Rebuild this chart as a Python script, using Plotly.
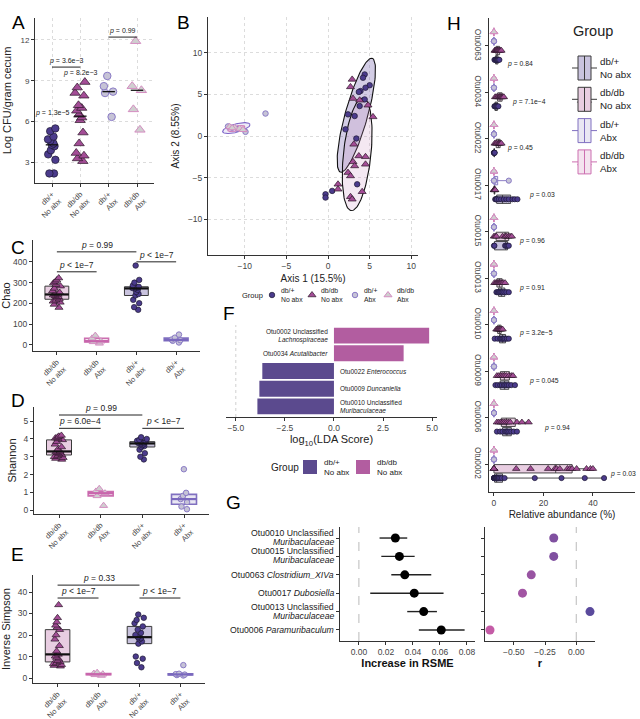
import numpy as np
import plotly.graph_objects as go

W, H = 640, 719
FONT = "Liberation Sans"

# ---------------- Panel A : culture counts ----------------
a_groups = ["db/+<br>No abx", "db/db<br>No abx", "db/+<br>Abx", "db/db<br>Abx"]
a_dbp_noabx = [5.5, 5.3, 4.9, 4.7, 4.6, 4.4, 4.3, 4.2, 3.9, 3.6, 3.2, 2.2, 2.2]
a_dbdb_noabx = [8.9, 8.5, 8.1, 7.9, 7.2, 7.0, 6.8, 6.5, 6.3, 6.1, 5.2, 4.4, 3.7, 3.5, 3.3, 3.1]
a_dbp_abx = [9.35, 8.6, 8.2, 8.1, 6.35]
a_dbdb_abx = [11.9, 8.6, 8.3, 6.9, 5.4]
a_yticks = [3, 6, 9, 12]
a_brackets = [(0, 1, 10.0, "<i>p</i> = 3.6e−3"), (2, 3, 12.2, "<i>p</i> = 0.99")]
a_free_p = [(0, 6.6, "<i>p</i> = 1.3e−5"), (1, 9.6, "<i>p</i> = 8.2e−3")]

# ---------------- Panel B : PCoA ----------------
b_dbp_noabx_x = [4.4, 4.2, 5.0, 4.5, 3.9, 3.7, 4.4, 3.8, 2.4, 3.2, 2.1, 3.4, 3.5, 0.5, -0.3, -0.3]
b_dbp_noabx_y = [7.4, 7.0, 6.1, 5.8, 5.4, 5.3, 4.4, 3.6, 2.6, 2.4, 0.8, -0.3, -5.8, -6.6, -7.0, -7.4]
b_dbdb_noabx_x = [2.9, 2.7, 3.0, 3.8, 4.8, 5.4, 3.1, 3.7, 4.5, 3.0, 3.2, 4.5, 2.4, 2.7, 1.2, 1.2, 4.1, 2.7, 2.9]
b_dbdb_noabx_y = [6.8, 5.9, 4.5, 4.3, 3.7, 2.3, -1.0, -2.4, -2.5, -3.1, -3.6, -3.4, -4.4, -4.8, -5.8, -6.4, -6.7, -7.3, -7.6]
b_dbp_abx_x = [-7.5, -9.9, -11.5, -10.8, -12.0]
b_dbp_abx_y = [2.7, 0.5, 1.0, 0.85, 1.15]
b_dbdb_abx_x = [-11.8, -11.2, -10.6, -10.2, -11.5]
b_dbdb_abx_y = [1.1, 1.0, 0.9, 0.75, 0.95]
# ellipses: centre, semi-axes, angle (deg)
b_ell_cx = [3.4, 3.5, -11.0, -11.0]
b_ell_cy = [2.5, -2.2, 0.95, 0.9]
b_ell_a = [7.1, 6.8, 1.7, 1.05]
b_ell_b = [1.35, 1.65, 0.5, 0.3]
b_ell_ang = [74.5, 84.0, 15.0, 12.0]
b_ticks = [-10, -5, 0, 5, 10]

# ---------------- Panels C, D, E : alpha diversity ----------------
cde_groups = ["db/db<br>No abx", "db/db<br>Abx", "db/+<br>No abx", "db/+<br>Abx"]
c_dbdb_noabx = [180, 195, 205, 210, 215, 220, 226, 232, 236, 240, 243, 247, 252, 260, 272, 283, 290, 298, 305, 312, 322]
c_dbdb_abx = [45, 32, 18, 15, 8]
c_dbp_noabx = [169, 182, 201, 217, 238, 245, 255, 265, 272, 274, 276, 278, 280, 286, 300, 313, 382]
c_dbp_abx = [50, 35, 26, 23, 20, 12]
c_yticks = [0, 100, 200, 300, 400]
c_brackets = [(0, 2, 448, "<i>p</i> = 0.99"), (0, 1, 352, "<i>p</i> < 1e−7"), (2, 3, 400, "<i>p</i> < 1e−7")]

d_dbdb_noabx = [2.85, 2.9, 2.95, 3.0, 3.05, 3.1, 3.15, 3.2, 3.22, 3.27, 3.3, 3.4, 3.55, 3.7, 3.85, 3.95, 4.0, 4.05, 4.1, 4.15, 4.2]
d_dbdb_abx = [1.2, 1.05, 0.95, 0.8, 0.25]
d_dbp_noabx = [2.85, 3.0, 3.2, 3.4, 3.55, 3.6, 3.65, 3.7, 3.75, 3.78, 3.8, 3.83, 3.85, 3.9, 3.95, 4.0, 4.1]
d_dbp_abx = [2.3, 0.97, 0.8, 0.62, 0.45, 0.2, 0.05]
d_yticks = [0, 1, 2, 3, 4, 5]
d_brackets = [(0, 2, 5.35, "<i>p</i> = 0.99"), (0, 1, 4.6, "<i>p</i> = 6.0e−4"), (2, 3, 4.6, "<i>p</i> < 1e−7")]

e_dbdb_noabx = [5.5, 5.8, 6.2, 6.6, 7.0, 7.5, 8.0, 8.8, 9.5, 10.2, 11.0, 12.5, 15.0, 18.0, 20.0, 22.5, 23.5, 24.5, 26.0, 28.0, 34.0]
e_dbdb_abx = [2.5, 2.1, 1.8, 1.5, 1.2]
e_dbp_noabx = [5.0, 7.0, 9.0, 10.0, 16.0, 17.0, 18.0, 18.5, 19.0, 20.0, 21.0, 22.5, 24.0, 25.5, 27.0, 28.0, 29.5]
e_dbp_abx = [6.0, 2.0, 1.8, 1.6, 1.4, 1.2]
e_yticks = [0, 10, 20, 30, 40]
e_brackets = [(0, 2, 43.2, "<i>p</i> = 0.33"), (0, 1, 37.2, "<i>p</i> < 1e−7"), (2, 3, 37.2, "<i>p</i> < 1e−7")]

# ---------------- Panel F : LEfSe ----------------
f_taxa = ["Otu0002 Unclassified<br><i>Lachnospiraceae</i>", "Otu0034 <i>Acutalibacter</i>",
          "Otu0022 <i>Enterococcus</i>", "Otu0009 <i>Duncaniella</i>",
          "Otu0010 Unclassified<br><i>Muribaculaceae</i>"]
f_lda = [4.85, 3.55, -3.65, -3.8, -3.9]
f_ticks = [-5.0, -2.5, 0.0, 2.5, 5.0]

# ---------------- Panel G : random forest ----------------
g_taxa = ["Otu0010 Unclassified<br><i>Muribaculaceae</i>", "Otu0015 Unclassified<br><i>Muribaculaceae</i>",
          "Otu0063 <i>Clostridium_XIVa</i>", "Otu0017 <i>Dubosiella</i>",
          "Otu0013 Unclassified<br><i>Muribaculaceae</i>", "Otu0006 <i>Paramuribaculum</i>"]
g_rsme = [0.027, 0.030, 0.034, 0.041, 0.048, 0.061]
g_lo = [0.0153, 0.0166, 0.024, 0.0084, 0.0358, 0.0444]
g_hi = [0.0358, 0.0413, 0.0536, 0.0627, 0.0578, 0.0783]
g_r = [-0.18, -0.18, -0.36, -0.43, 0.11, -0.69]
g_xticks = [0.00, 0.02, 0.04, 0.06, 0.08]
g_rticks = [-0.50, -0.25, 0.00]

# ---------------- Panel H : relative abundance ----------------
h_otus = ["Otu0063", "Otu0034", "Otu0022", "Otu0017", "Otu0015", "Otu0013", "Otu0010", "Otu0009", "Otu0006", "Otu0002"]
h_dbp_noabx = [
    [0.2, 0.5, 0.8, 1.0, 1.2, 1.5, 1.8, 2.2],
    [0.2, 0.4, 0.6, 1.0, 1.4, 1.8],
    [0.0, 0.05, 0.1, 0.1, 0.2, 0.3],
    [0.5, 0.8, 1.0, 1.2, 2.0, 2.9, 4.0, 5.0, 6.0, 7.5, 8.4, 9.5],
    [0.0, 0.2, 4.5, 5.0, 5.5, 6.0],
    [1.0, 1.5, 2.0, 2.5, 3.0, 3.5, 4.2, 5.0, 6.0],
    [0.3, 1.5, 2.5, 3.0, 3.5, 4.0, 4.5, 5.2, 6.0],
    [0.6, 1.5, 2.5, 3.2, 4.0, 4.6, 5.3, 6.0, 7.0, 8.5],
    [1.2, 2.5, 3.5, 4.5, 5.0, 5.5, 6.2, 7.0, 8.0, 9.3],
    [0.0, 0.0, 0.1, 0.1, 0.2, 0.3, 0.4, 0.5, 0.7, 0.9, 1.1, 1.4, 1.7, 2.0, 2.6, 3.2, 4.3, 16.5, 27.3, 36.7, 44.5],
]
h_dbdb_noabx = [
    [0.3, 0.6, 0.9, 1.2, 1.5, 1.8, 2.2, 2.6, 3.0],
    [0.5, 1.0, 1.5, 2.0, 2.3, 2.6, 3.0, 3.3, 3.6, 4.0],
    [0.3, 0.8, 1.2, 1.8, 2.2, 2.6, 3.0],
    [0.0, 0.1, 0.2, 0.3, 0.5],
    [0.0, 0.5, 1.0, 3.5, 4.5, 5.0, 5.8, 6.5, 7.2],
    [0.2, 0.8, 1.2, 1.6, 2.0, 2.4, 2.8, 3.3, 3.8, 4.5],
    [1.0, 1.4, 1.8, 2.2, 2.6, 3.0, 3.5],
    [1.2, 2.0, 2.8, 3.5, 4.2, 5.0, 6.0, 7.0, 7.7],
    [1.2, 2.0, 2.8, 3.5, 4.2, 5.0, 5.8, 6.6, 9.3, 11.3, 14.0],
    [0.0, 0.0, 0.0, 0.0, 0.0, 9.0, 14.8, 21.9, 24.6, 25.3, 26.6, 29.7, 30.7, 31.6, 33.4, 37.4, 39.0, 40.0],
]
h_dbp_abx = [
    [0.0, 0.0, 0.0, 0.0, 0.0], [0.0, 0.0, 0.0, 0.0, 0.0], [0.0, 0.0, 0.0, 0.0, 0.0],
    [0.0, 0.0, 0.0, 0.0, 6.0], [0.0, 0.0, 0.0, 0.0, 0.0], [0.0, 0.0, 0.0, 0.0, 0.0],
    [0.0, 0.0, 0.0, 0.0, 0.0], [0.0, 0.0, 0.0, 0.0, 0.0], [0.0, 0.0, 0.0, 0.0, 0.0],
    [0.0, 0.0, 0.0, 0.0, 0.0],
]
h_dbdb_abx = [
    [0.0, 0.0, 0.0, 0.0, 0.0], [0.0, 0.0, 0.0, 0.0, 0.0], [0.0, 0.0, 0.0, 0.0, 0.0],
    [0.0, 0.0, 0.0, 0.0, 0.0], [0.0, 0.0, 0.0, 0.0, 0.0], [0.0, 0.0, 0.0, 0.0, 0.0],
    [0.0, 0.0, 0.0, 0.0, 0.0], [0.0, 0.0, 0.0, 0.0, 0.0], [0.0, 0.0, 0.0, 0.0, 0.0],
    [0.0, 0.0, 0.0, 0.0, 0.0],
]
h_pvals = ["0.84", "7.1e−4", "0.45", "0.03", "0.96", "0.91", "3.2e−5", "0.045", "0.94", "0.03"]
h_p_x = [4.5, 6.5, 4.5, 13.4, 9.3, 9.3, 9.3, 13.4, 19.4, 46.0]
h_p_dy = [0.39, 0.2, 0.2, 0.2, 0.2, 0.2, 0.18, 0.22, 0.22, 0.22]
h_xticks = [0, 20, 40]

# ---------------- styles ----------------
DP = "#4B3B8C"
MG = "#A34D96"
STY = {
    "dbp_noabx": dict(symbol="circle", fill=DP, mline="#1d1830", mlw=0.7, box="#C9C3DE", bline="#3a3a3a", med="#111111"),
    "dbdb_noabx": dict(symbol="triangle-up", fill=MG, mline="#2a1626", mlw=0.7, box="#E8CDE1", bline="#3a3a3a", med="#111111"),
    "dbp_abx": dict(symbol="circle", fill="#C6C3D6", mline="#8A7BC6", mlw=1.0, box="#E9E7F3", bline="#8070C0", med="#7A68BE"),
    "dbdb_abx": dict(symbol="triangle-up", fill="#CFCFCF", mline="#D48DC1", mlw=1.0, box="#F4E4EF", bline="#CC6FB0", med="#C865AC"),
}
LABEL = {"dbp_noabx": "db/+<br>No abx", "dbdb_noabx": "db/db<br>No abx", "dbp_abx": "db/+<br>Abx", "dbdb_abx": "db/db<br>Abx"}


def px(x):
    return x / W


def py(y):
    return 1 - y / H


fig = go.Figure()
shapes = []
annots = []
lay = {}


def refs(n):
    return ("x" if n == 1 else f"x{n}"), ("y" if n == 1 else f"y{n}")


def set_axes(n, xdom, ydom, xkw, ykw):
    xa = "xaxis" if n == 1 else f"xaxis{n}"
    ya = "yaxis" if n == 1 else f"yaxis{n}"
    xr, yr = refs(n)
    base = dict(showline=True, linecolor="#333333", linewidth=1, ticks="outside", ticklen=3, tickwidth=1,
                tickcolor="#333333", zeroline=False, showgrid=False, automargin=False, fixedrange=True,
                tickfont=dict(size=8, color="#444444", family=FONT), title=dict(font=dict(size=10, family=FONT, color="#222222")))
    xd = dict(base)
    xd.update(domain=[px(xdom[0]), px(xdom[1])], anchor=yr)
    xd.update(xkw)
    yd = dict(base)
    yd.update(domain=[py(ydom[1]), py(ydom[0])], anchor=xr)
    yd.update(ykw)
    lay[xa] = xd
    lay[ya] = yd


def bracket(n, x0, x1, y, text, size):
    xr, yr = refs(n)
    shapes.append(dict(type="line", xref=xr, yref=yr, x0=x0, x1=x1, y0=y, y1=y, line=dict(color="#222222", width=1)))
    annots.append(dict(xref=xr, yref=yr, x=(x0 + x1) / 2, y=y, text=text, showarrow=False, yanchor="bottom",
                       yshift=0, font=dict(size=size, family=FONT, color="#222222")))


def box_stats(n, vals, pos, width, st, lw=1.0, medw=2.0):
    xr, yr = refs(n)
    q1, med, q3 = np.percentile(vals, [25, 50, 75])
    fig.add_trace(go.Box(x=[pos], q1=[q1], median=[med], q3=[q3], lowerfence=[q1], upperfence=[q3],
                         orientation="v", width=width, fillcolor=st["box"], line=dict(color=st["bline"], width=lw),
                         whiskerwidth=0, xaxis=xr, yaxis=yr, showlegend=False, hoverinfo="skip"))
    fig.add_trace(go.Scatter(x=[pos - width / 2, pos + width / 2], y=[med, med], mode="lines",
                             line=dict(color=st["med"], width=medw), xaxis=xr, yaxis=yr, showlegend=False, hoverinfo="skip"))


def jitter_points(n, vals, pos, width, jitter, st, size):
    xr, yr = refs(n)
    sz = size + 1.5 if st["symbol"].startswith("triangle") else size
    fig.add_trace(go.Box(y=vals, x0=pos, width=width, boxpoints="all", jitter=jitter, pointpos=0,
                         line=dict(width=0, color="rgba(0,0,0,0)"), fillcolor="rgba(0,0,0,0)",
                         marker=dict(symbol=st["symbol"], size=sz, color=st["fill"], opacity=1,
                                     line=dict(color=st["mline"], width=st["mlw"])),
                         xaxis=xr, yaxis=yr, showlegend=False, hoverinfo="skip"))


# ================= Panel A =================
set_axes(1, (35, 154), (18, 183),
         dict(range=[-0.6, 3.6], tickvals=[0, 1, 2, 3], ticktext=a_groups, tickangle=-45,
              tickfont=dict(size=7.5, color="#444444", family=FONT),
              showgrid=True, gridcolor="#DCDCDC", griddash="dot", gridwidth=1),
         dict(range=[1.5, 13.6], tickvals=a_yticks, showgrid=True, gridcolor="#DCDCDC", griddash="dot", gridwidth=1,
              title=dict(text="Log CFU/gram cecum", font=dict(size=11, family=FONT, color="#222222"), standoff=6)))
for i, (key, vals) in enumerate([("dbp_noabx", a_dbp_noabx), ("dbdb_noabx", a_dbdb_noabx),
                                 ("dbp_abx", a_dbp_abx), ("dbdb_abx", a_dbdb_abx)]):
    jitter_points(1, vals, i, 0.5, 0.8, STY[key], 7.5)
    med = float(np.median(vals))
    fig.add_trace(go.Scatter(x=[i - 0.22, i + 0.22], y=[med, med], mode="lines", line=dict(color="#111111", width=1.3),
                             xaxis="x", yaxis="y", showlegend=False, hoverinfo="skip"))
for x0, x1, y, t in a_brackets:
    bracket(1, x0, x1, y, t, 7)
for x, y, t in a_free_p:
    annots.append(dict(xref="x", yref="y", x=x, y=y, text=t, showarrow=False, font=dict(size=7, family=FONT, color="#222222")))

# ================= Panel B =================
set_axes(2, (208, 418), (17, 255),
         dict(range=[-14.4, 10.8], tickvals=b_ticks, ticktext=[str(v).replace("-", "−") for v in b_ticks],
              showgrid=True, gridcolor="#DCDCDC", griddash="dot", tickfont=dict(size=8.5, color="#444444", family=FONT),
              title=dict(text="Axis 1 (15.5%)", font=dict(size=10, family=FONT, color="#222222"), standoff=4)),
         dict(range=[-14.3, 14.3], tickvals=b_ticks, ticktext=[str(v).replace("-", "−") for v in b_ticks],
              showgrid=True, gridcolor="#DCDCDC", griddash="dot", tickfont=dict(size=8.5, color="#444444", family=FONT),
              title=dict(text="Axis 2 (8.55%)", font=dict(size=10, family=FONT, color="#222222"), standoff=6)))
ell_fill = ["rgba(110,90,170,0.30)", "rgba(200,140,190,0.20)", "rgba(170,160,220,0.20)", "rgba(230,170,210,0.20)"]
ell_line = ["#111111", "#111111", "#7F65C9", "#D07CB8"]
t = np.linspace(0, 2 * np.pi, 120)
for k in range(4):
    th = np.deg2rad(b_ell_ang[k])
    ex = b_ell_cx[k] + b_ell_a[k] * np.cos(t) * np.cos(th) - b_ell_b[k] * np.sin(t) * np.sin(th)
    ey = b_ell_cy[k] + b_ell_a[k] * np.cos(t) * np.sin(th) + b_ell_b[k] * np.sin(t) * np.cos(th)
    fig.add_trace(go.Scatter(x=ex, y=ey, mode="lines", fill="toself", fillcolor=ell_fill[k],
                             line=dict(color=ell_line[k], width=1.1), xaxis="x2", yaxis="y2", showlegend=False, hoverinfo="skip"))
for key, xs, ys in [("dbp_noabx", b_dbp_noabx_x, b_dbp_noabx_y), ("dbdb_noabx", b_dbdb_noabx_x, b_dbdb_noabx_y),
                    ("dbp_abx", b_dbp_abx_x, b_dbp_abx_y), ("dbdb_abx", b_dbdb_abx_x, b_dbdb_abx_y)]:
    st = STY[key]
    sz = 7 if st["symbol"].startswith("triangle") else 5.5
    fig.add_trace(go.Scatter(x=xs, y=ys, mode="markers",
                             marker=dict(symbol=st["symbol"], size=sz, color=st["fill"], line=dict(color=st["mline"], width=st["mlw"])),
                             xaxis="x2", yaxis="y2", showlegend=False, hoverinfo="skip"))

# ================= Panels C, D, E =================
cde = [
    (3, (33, 200), (240, 351), [c_dbdb_noabx, c_dbdb_abx, c_dbp_noabx, c_dbp_abx], [-29, 505], c_yticks, "Chao", c_brackets),
    (4, (34, 209), (407, 514), [d_dbdb_noabx, d_dbdb_abx, d_dbp_noabx, d_dbp_abx], [-0.22, 5.8], d_yticks, "Shannon", d_brackets),
    (5, (33, 205), (575, 683), [e_dbdb_noabx, e_dbdb_abx, e_dbp_noabx, e_dbp_abx], [-2.3, 47.9], e_yticks, "Inverse Simpson", e_brackets),
]
cde_keys = ["dbdb_noabx", "dbdb_abx", "dbp_noabx", "dbp_abx"]
for n, xd, yd, datasets, yr_, yt, ttl, brs in cde:
    set_axes(n, xd, yd,
             dict(range=[-0.6, 3.6], tickvals=[0, 1, 2, 3], ticktext=cde_groups, tickangle=-45,
                  tickfont=dict(size=7.5, color="#444444", family=FONT)),
             dict(range=yr_, tickvals=yt, tickfont=dict(size=8.5, color="#444444", family=FONT),
                  title=dict(text=ttl, font=dict(size=11, family=FONT, color="#222222"), standoff=4)))
    for i, (key, vals) in enumerate(zip(cde_keys, datasets)):
        st = STY[key]
        abx = not key.endswith("noabx")
        box_stats(n, vals, i, 0.6, st, lw=1.6 if abx else 1.0, medw=2.2)
        jitter_points(n, vals, i, 0.6, 0.45, st, 5.5)
    for x0, x1, y, tx in brs:
        bracket(n, x0, x1, y, tx, 8.5)

# ================= Panel F =================
set_axes(6, (226, 437), (325, 417),
         dict(range=[-5.5, 5.25], tickvals=f_ticks, ticktext=["−5.0", "−2.5", "0.0", "2.5", "5.0"],
              tickfont=dict(size=8.5, color="#444444", family=FONT),
              title=dict(text="log<sub>10</sub>(LDA Score)", font=dict(size=11, family=FONT, color="#222222"), standoff=3)),
         dict(range=[4.6, -0.6], visible=False))
shapes.append(dict(type="line", xref="x6", yref="y6 domain", x0=-5, x1=-5, y0=0, y1=1,
                   line=dict(color="#D0D0D0", width=1, dash="dot"), layer="below"))
f_idx = list(range(len(f_lda)))
neg_i = [i for i in f_idx if f_lda[i] < 0]
pos_i = [i for i in f_idx if f_lda[i] >= 0]
fig.add_trace(go.Bar(x=[f_lda[i] for i in neg_i], y=neg_i, orientation="h", marker=dict(color="#5B4A8E", line=dict(width=0)),
                     width=0.9, xaxis="x6", yaxis="y6", showlegend=False, hoverinfo="skip"))
fig.add_trace(go.Bar(x=[f_lda[i] for i in pos_i], y=pos_i, orientation="h", marker=dict(color="#B25DA0", line=dict(width=0)),
                     width=0.9, xaxis="x6", yaxis="y6", showlegend=False, hoverinfo="skip"))
for i in f_idx:
    right = f_lda[i] >= 0
    annots.append(dict(xref="x6", yref="y6", x=-0.2 if right else 0.2, y=i, text=f_taxa[i], showarrow=False,
                       xanchor="right" if right else "left", align="right" if right else "left",
                       font=dict(size=6.5, family=FONT, color="#222222")))

# ================= Panel G =================
g_idx = list(range(len(g_taxa)))
set_axes(7, (340, 475), (527, 641),
         dict(range=[-0.014, 0.086], tickvals=g_xticks, ticktext=[f"{v:.2f}" for v in g_xticks],
              tickfont=dict(size=8.5, color="#444444", family=FONT),
              title=dict(text="<b>Increase in RSME</b>", font=dict(size=11, family=FONT, color="#111111"), standoff=3)),
         dict(range=[5.6, -0.6], tickvals=g_idx, showticklabels=False))
# taxon labels (tight two-line spacing)
for i, lab in enumerate(g_taxa):
    parts = lab.split("<br>")
    offs = [0.0] if len(parts) == 1 else [-0.27, 0.22]
    for part, o in zip(parts, offs):
        annots.append(dict(xref="paper", yref="y7", x=px(336), y=i + o, text=part, showarrow=False,
                           xanchor="right", font=dict(size=8.7, family=FONT, color="#222222")))
shapes.append(dict(type="line", xref="x7", yref="y7 domain", x0=0, x1=0, y0=0, y1=1,
                   line=dict(color="#BBBBBB", width=1, dash="dash"), layer="below"))
fig.add_trace(go.Scatter(x=g_rsme, y=g_idx, mode="markers",
                         marker=dict(color="#000000", size=9),
                         error_x=dict(type="data", symmetric=False,
                                      array=[h - v for h, v in zip(g_hi, g_rsme)],
                                      arrayminus=[v - l for v, l in zip(g_rsme, g_lo)],
                                      color="#222222", thickness=1.4, width=0),
                         xaxis="x7", yaxis="y7", showlegend=False, hoverinfo="skip"))

set_axes(8, (485, 595), (527, 641),
         dict(range=[-0.73, 0.15], tickvals=g_rticks, ticktext=["−0.50", "−0.25", "0.00"],
              tickfont=dict(size=8.5, color="#444444", family=FONT),
              title=dict(text="<b>r</b>", font=dict(size=11, family=FONT, color="#111111"), standoff=3)),
         dict(range=[5.6, -0.6], tickvals=g_idx, showticklabels=False))
shapes.append(dict(type="line", xref="x8", yref="y8 domain", x0=0, x1=0, y0=0, y1=1,
                   line=dict(color="#BBBBBB", width=1, dash="dash"), layer="below"))
fig.add_trace(go.Scatter(x=g_r, y=g_idx, mode="markers",
                         marker=dict(color=g_r, colorscale=[[0, "#C45BA6"], [1, "#5A4A9C"]], cmin=min(g_r), cmax=max(g_r),
                                     size=9, showscale=False),
                         xaxis="x8", yaxis="y8", showlegend=False, hoverinfo="skip"))

# ================= Panel H =================
set_axes(9, (489, 635), (18, 492),
         dict(range=[-2, 57], tickvals=h_xticks, tickfont=dict(size=8.5, color="#444444", family=FONT),
              title=dict(text="Relative abundance (%)", font=dict(size=10, family=FONT, color="#222222"), standoff=3)),
         dict(range=[9.6, -0.6], tickvals=list(range(len(h_otus))), ticktext=h_otus, tickangle=90,
              tickfont=dict(size=8.3, color="#444444", family=FONT)))
h_sets = [("dbp_noabx", h_dbp_noabx, 0.3), ("dbdb_noabx", h_dbdb_noabx, 0.1),
          ("dbp_abx", h_dbp_abx, -0.1), ("dbdb_abx", h_dbdb_abx, -0.3)]
for key, data, off in h_sets:
    st = STY[key]
    xs, ys = [], []
    for i, vals in enumerate(data):
        xs += vals
        ys += [i + off] * len(vals)
    fig.add_trace(go.Box(x=xs, y=ys, orientation="h", boxpoints=False, width=0.18, whiskerwidth=0,
                         fillcolor=st["box"], line=dict(color=st["bline"], width=0.9),
                         xaxis="x9", yaxis="y9", showlegend=False, hoverinfo="skip"))
for key, data, off in h_sets:
    st = STY[key]
    xs, ys = [], []
    for i, vals in enumerate(data):
        xs += vals
        ys += [i + off] * len(vals)
    sz = 6.5 if st["symbol"].startswith("triangle") else 5.2
    fig.add_trace(go.Scatter(x=xs, y=ys, mode="markers",
                             marker=dict(symbol=st["symbol"], size=sz, color=st["fill"], line=dict(color=st["mline"], width=st["mlw"])),
                             xaxis="x9", yaxis="y9", showlegend=False, hoverinfo="skip"))
for i, p in enumerate(h_pvals):
    annots.append(dict(xref="x9", yref="y9", x=h_p_x[i], y=i + h_p_dy[i], text=f"<i>p</i> = {p}", showarrow=False,
                       xanchor="left", font=dict(size=6.8, family=FONT, color="#222222")))

# ================= overlay axis for hand-made legends (pixel units) =================
lay["xaxis10"] = dict(domain=[0, 1], range=[0, W], visible=False, fixedrange=True, anchor="y10")
lay["yaxis10"] = dict(domain=[0, 1], range=[H, 0], visible=False, fixedrange=True, anchor="x10")
keys = ["dbp_noabx", "dbdb_noabx", "dbp_abx", "dbdb_abx"]

# B legend
annots.append(dict(xref="x10", yref="y10", x=240, y=295, text="Group", showarrow=False, xanchor="left",
                   font=dict(size=7.5, family=FONT, color="#222222")))
b_leg_x = [272, 312, 355, 388]
for k, key in enumerate(keys):
    st = STY[key]
    fig.add_trace(go.Scatter(x=[b_leg_x[k]], y=[295], mode="markers",
                             marker=dict(symbol=st["symbol"], size=7 if st["symbol"].startswith("triangle") else 5.5,
                                         color=st["fill"], line=dict(color=st["mline"], width=st["mlw"])),
                             xaxis="x10", yaxis="y10", showlegend=False, hoverinfo="skip"))
    annots.append(dict(xref="x10", yref="y10", x=b_leg_x[k] + 7, y=295, text=LABEL[key], showarrow=False, xanchor="left",
                       align="left", font=dict(size=6.8, family=FONT, color="#222222")))

# F legend
annots.append(dict(xref="x10", yref="y10", x=269, y=467, text="Group", showarrow=False, xanchor="left",
                   font=dict(size=10, family=FONT, color="#222222")))
for x0, col, lab in [(303, "#5B4A8E", LABEL["dbp_noabx"]), (356, "#B25DA0", LABEL["dbdb_noabx"])]:
    shapes.append(dict(type="rect", xref="x10", yref="y10", x0=x0, x1=x0 + 14, y0=460, y1=474,
                       fillcolor=col, line=dict(width=0)))
    annots.append(dict(xref="x10", yref="y10", x=x0 + 19, y=467, text=lab, showarrow=False, xanchor="left",
                       align="left", font=dict(size=8, family=FONT, color="#222222")))

# H legend
annots.append(dict(xref="x10", yref="y10", x=571, y=31, text="Group", showarrow=False, xanchor="left",
                   font=dict(size=14.5, family=FONT, color="#222222")))
for k, key in enumerate(keys):
    st = STY[key]
    cy = 68 + 31.3 * k
    shapes.append(dict(type="line", xref="x10", yref="y10", x0=572, x1=597, y0=cy, y1=cy, line=dict(color=st["bline"], width=1)))
    shapes.append(dict(type="rect", xref="x10", yref="y10", x0=578, x1=591, y0=cy - 12, y1=cy + 12,
                       fillcolor=st["box"], line=dict(color=st["bline"], width=1)))
    shapes.append(dict(type="line", xref="x10", yref="y10", x0=584.5, x1=584.5, y0=cy - 12, y1=cy + 12,
                       line=dict(color=st["bline"], width=1)))
    fig.add_trace(go.Scatter(x=[584.5], y=[cy], mode="markers",
                             marker=dict(symbol=st["symbol"], size=12 if st["symbol"].startswith("triangle") else 10,
                                         color=st["fill"], line=dict(color=st["mline"], width=st["mlw"])),
                             xaxis="x10", yaxis="y10", showlegend=False, hoverinfo="skip"))
    annots.append(dict(xref="x10", yref="y10", x=598, y=cy, text=LABEL[key], showarrow=False, xanchor="left",
                       align="left", font=dict(size=9.8, family=FONT, color="#222222")))

# panel letters
for letter, x, y in [("A", 10, 10), ("B", 175, 10), ("C", 9, 235), ("D", 9, 400), ("E", 9, 567),
                     ("F", 229, 313), ("G", 233, 515), ("H", 463, 11)]:
    annots.append(dict(xref="paper", yref="paper", x=px(x), y=py(y), text=letter, showarrow=False,
                       font=dict(size=19, family=FONT, color="#000000")))

fig.update_layout(width=W, height=H, margin=dict(l=0, r=0, t=0, b=0), autosize=False,
                  paper_bgcolor="white", plot_bgcolor="rgba(0,0,0,0)", showlegend=False,
                  font=dict(family=FONT, color="#222222"), hovermode=False, boxmode="overlay", barmode="overlay",
                  shapes=shapes, annotations=annots, **lay)
fig.write_html("out.html", config={"displayModeBar": False, "staticPlot": True},
               post_script="document.body.style.margin='0px';")
